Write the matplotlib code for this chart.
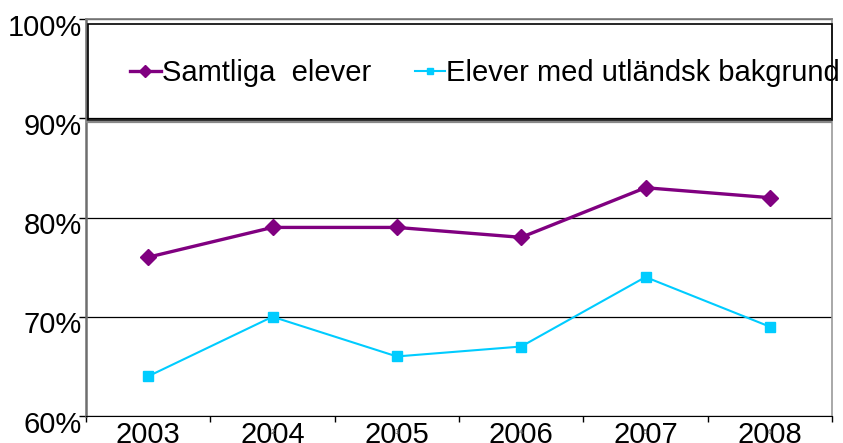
import matplotlib
matplotlib.use("Agg")
import matplotlib.pyplot as plt
from matplotlib.patches import Rectangle
from matplotlib import transforms

plt.rcParams['font.family'] = ['Liberation Sans', 'DejaVu Sans']

years = ['2003', '2004', '2005', '2006', '2007', '2008']
samtliga = [0.76, 0.79, 0.79, 0.78, 0.83, 0.82]
utlandsk = [0.64, 0.70, 0.66, 0.67, 0.74, 0.69]
yticks = [0.6, 0.7, 0.8, 0.9, 1.0]
ytick_labels = ['60%', '70%', '80%', '90%', '100%']
small_marks = ['', '2', '3', '4', '5', '6']

purple = '#800080'
cyan = '#00ccff'

fig = plt.figure(figsize=(8.43, 4.43), dpi=100)
ax = fig.add_axes([86/843, (443-416)/443, 746/843, 397/443])

x = list(range(len(years)))
ax.plot(x, samtliga, color=purple, lw=2.4, marker='D', ms=8.2,
        label='Samtliga  elever', zorder=4)
ax.plot(x, utlandsk, color=cyan, lw=1.5, marker='s', ms=6.5,
        label='Elever med utländsk bakgrund', zorder=4)

ax.set_xlim(-0.5, len(years) - 0.5)
ax.set_ylim(0.6, 1.0)

ax.set_yticks(yticks)
ax.set_yticklabels(ytick_labels, fontsize=21)
ax.tick_params(axis='y', direction='out', length=5, width=1, pad=-2, colors='black')
for lab in ax.get_yticklabels():
    lab.set_transform(lab.get_transform() +
                      transforms.ScaledTranslation(0, -4/72, fig.dpi_scale_trans))

ax.set_xticks([i - 0.5 for i in range(len(years) + 1)])
ax.set_xticklabels([])
ax.set_xticks(x, minor=True)
ax.set_xticklabels(years, minor=True, fontsize=21)
ax.tick_params(axis='x', which='major', direction='out', length=4, width=1)
ax.tick_params(axis='x', which='minor', length=0, pad=3.5)

ax.yaxis.grid(True, color='black', lw=0.9)
ax.set_axisbelow(True)

ax.spines['left'].set_color('#6e6e6e')
ax.spines['left'].set_linewidth(1.8)
ax.spines['bottom'].set_color('black')
ax.spines['top'].set_color('#808080')
ax.spines['top'].set_linewidth(1.3)
ax.spines['right'].set_color('#999999')
ax.spines['right'].set_linewidth(1.2)

# legend frame (double border like the original)
ax.add_patch(Rectangle((2/746, 0.745), 1 - 2/746, (416-24)/397 - 0.745,
                       transform=ax.transAxes, fill=False, ec='black', lw=1.2,
                       zorder=3, clip_on=False))
ax.plot([0, 1], [(416-121.5)/397] * 2, transform=ax.transAxes,
        color='#888888', lw=1.6, zorder=3)

ax.legend(loc='center left', bbox_to_anchor=(44/746, (416-73)/397),
          frameon=False, ncol=2, fontsize=21, borderpad=0, borderaxespad=0,
          handlelength=1.05, handletextpad=0.03, columnspacing=1.5,
          markerscale=0.75)

for i, m in enumerate(small_marks):
    ax.text(i, -17/397, m, transform=ax.get_xaxis_transform(), fontsize=6,
            color='#555555', ha='center', va='center')

fig.savefig('out.png', dpi=100)
